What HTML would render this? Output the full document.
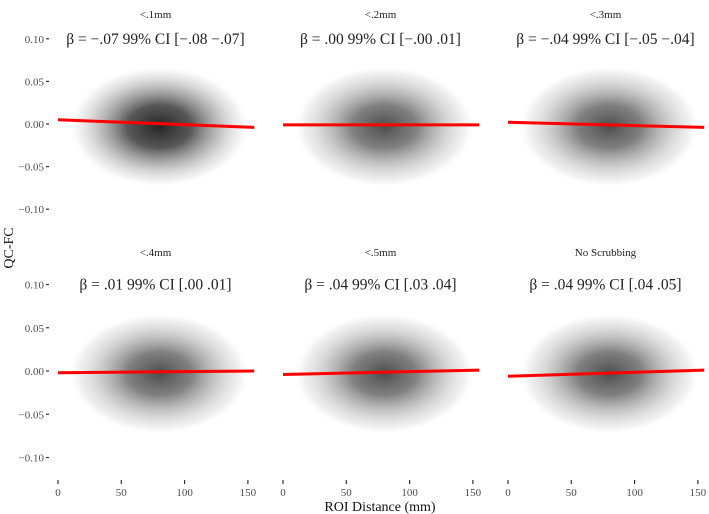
<!DOCTYPE html>
<html><head><meta charset="utf-8"><style>
body{margin:0;background:#fff}
svg{display:block;font-family:"Liberation Serif",serif}
</style></head><body>
<svg id="c" width="709" height="514" viewBox="0 0 709 514">
<defs>
<radialGradient id="g1"><stop offset="0" stop-color="#1a1a1a" stop-opacity="0.95"/><stop offset="0.35" stop-color="#3a3a3a" stop-opacity="0.85"/><stop offset="0.65" stop-color="#888" stop-opacity="0.55"/><stop offset="0.88" stop-color="#ccc" stop-opacity="0.3"/><stop offset="1" stop-color="#fff" stop-opacity="0"/></radialGradient>
<radialGradient id="g2"><stop offset="0" stop-color="#3a3a3a" stop-opacity="0.9"/><stop offset="0.35" stop-color="#555" stop-opacity="0.75"/><stop offset="0.65" stop-color="#999" stop-opacity="0.5"/><stop offset="0.88" stop-color="#ccc" stop-opacity="0.3"/><stop offset="1" stop-color="#fff" stop-opacity="0"/></radialGradient>
</defs>
</svg>
<script>
const panelTitles=["<.1mm","<.2mm","<.3mm","<.4mm","<.5mm","No Scrubbing"];
const annotations=["β = −.07 99% CI [−.08 −.07]","β = .00 99% CI [−.00 .01]","β = −.04 99% CI [−.05 −.04]","β = .01 99% CI [.00 .01]","β = .04 99% CI [.03 .04]","β = .04 99% CI [.04 .05]"];
const lineStart=[0.005,-0.001,0.002,-0.002,-0.004,-0.006];
const lineEnd=[-0.004,-0.001,-0.004,0.000,0.001,0.001];
const xTicks=[0,50,100,150];
const yTicks=[0.10,0.05,0.00,-0.05,-0.10];
const yTickLabels=["0.10","0.05","0.00","−0.05","−0.10"];
const xLineRange=[0,155];
const blobCenter=[80,-0.003];
const blobSpread=[72,0.072];

const svg=document.getElementById('c');
const NS='http://www.w3.org/2000/svg';
function mk(t,a,p){const e=document.createElementNS(NS,t);for(const k in a)e.setAttribute(k,a[k]);(p||svg).appendChild(e);return e;}
function xs(col){return v=>58+225*col+v*1.266;}
function ys(row){const y0=row===0?124:371, k=row===0?852:865;return v=>y0-v*k;}

for(let i=0;i<6;i++){
  const row=Math.floor(i/3),col=i%3,X=xs(col),Y=ys(row);
  const g=mk('g',{});
  
  
  const b=mk('ellipse',{cx:X(blobCenter[0]),cy:Y(blobCenter[1]),rx:blobSpread[0]*1.266,ry:blobSpread[1]*852,fill:i===0?'url(#g1)':'url(#g2)'},g);
  
  
  const l=mk('line',{x1:X(xLineRange[0]),y1:Y(lineStart[i]),x2:X(xLineRange[1]),y2:Y(lineEnd[i]),stroke:'#f00','stroke-width':3},g);
  
  
  const t=mk('text',{x:X(77),y:row===0?18:256,'text-anchor':'middle','font-size':11,fill:'#222'},g);
  t.textContent=panelTitles[i];
  
  
  const a=mk('text',{x:X(77),y:Y(0.10)+5,'text-anchor':'middle','font-size':15.5,fill:'#222'},g);
  a.textContent=annotations[i];
  
  
  if(col===0){
    yTicks.forEach((v,j)=>{
      const tl=mk('text',{x:44,y:Y(v)+4,'text-anchor':'end','font-size':11,fill:'#4d4d4d'});
      tl.textContent=yTickLabels[j];
      
      
      mk('line',{x1:46,x2:49,y1:Y(v),y2:Y(v),stroke:'#333','stroke-width':1.2});
    });
  }
  if(row===1){
    xTicks.forEach(v=>{
      mk('line',{x1:X(v),x2:X(v),y1:480,y2:484,stroke:'#333','stroke-width':1.2});
      const tl=mk('text',{x:X(v),y:496,'text-anchor':'middle','font-size':11,fill:'#4d4d4d'});
      tl.textContent=v;
      
      
    });
  }
}
const xt=mk('text',{x:380,y:511,'text-anchor':'middle','font-size':14,fill:'#111'});
xt.textContent='ROI Distance (mm)';


const yt=mk('text',{x:0,y:0,'text-anchor':'middle','font-size':14,fill:'#111',transform:'translate(13,248) rotate(-90)'});
yt.textContent='QC-FC';


</script>
</body></html>
